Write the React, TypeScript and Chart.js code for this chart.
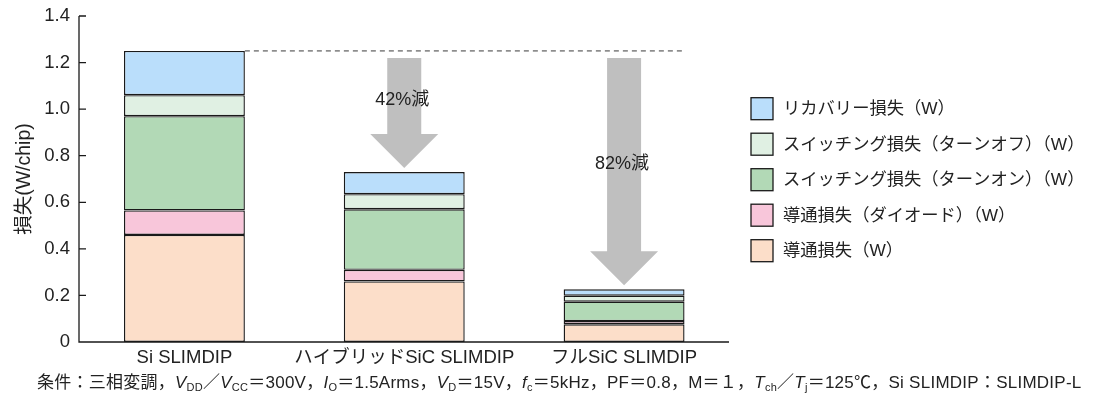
import React, { useEffect, useRef } from "react";
import { Chart, registerables } from "chart.js";

Chart.register(...registerables);

const FONT = "'Liberation Sans', 'Noto Sans CJK JP', sans-serif";
const TEXT_COLOR = "#222222";

// Module variants on the category axis
const categories = ["Si SLIMDIP", "ハイブリッドSiC SLIMDIP", "フルSiC SLIMDIP"];

// Loss components per module (W/chip), stacked bottom to top
const conductionLoss = [0.46, 0.26, 0.076];
const diodeConductionLoss = [0.105, 0.05, 0.014];
const turnOnLoss = [0.405, 0.26, 0.083];
const turnOffLoss = [0.09, 0.065, 0.026];
const recoveryLoss = [0.19, 0.095, 0.027];

const seriesLabels = [
  "導通損失（W）",
  "導通損失（ダイオード）（W）",
  "スイッチング損失（ターンオン）（W）",
  "スイッチング損失（ターンオフ）（W）",
  "リカバリー損失（W）",
];
const seriesColors = ["#fcdec9", "#f8c6da", "#b2d9b6", "#e0f0e3", "#badefb"];

const yTicks = [0, 0.2, 0.4, 0.6, 0.8, 1.0, 1.2, 1.4];

const totals = categories.map(
  (_, i) =>
    conductionLoss[i] + diodeConductionLoss[i] + turnOnLoss[i] + turnOffLoss[i] + recoveryLoss[i]
);

// Axis lines with inward tick marks
const axesPlugin = {
  id: "axesLines",
  afterDraw(chart: any) {
    const { ctx, chartArea, scales } = chart;
    const y = scales.y;
    const x0 = chartArea.left + 4.5;
    const x1 = chartArea.right - 5;
    const yb = y.getPixelForValue(0);
    const yt = y.getPixelForValue(1.4);
    ctx.save();
    ctx.strokeStyle = "#1a1a1a";
    ctx.lineWidth = 1.3;
    ctx.beginPath();
    ctx.moveTo(x0, yt);
    ctx.lineTo(x0, yb);
    ctx.lineTo(x1, yb);
    yTicks.forEach((v) => {
      const py = y.getPixelForValue(v);
      ctx.moveTo(x0, py);
      ctx.lineTo(x0 + 7, py);
    });
    ctx.stroke();
    ctx.restore();
  },
};

// Reference dashed line and reduction arrows
const reductionPlugin = {
  id: "reduction",
  afterDatasetsDraw(chart: any) {
    const { ctx, scales } = chart;
    const xs = scales.x;
    const ys = scales.y;
    const meta = chart.getDatasetMeta(seriesLabels.length - 1);
    const refBar = meta.data[0];
    const lastBar = meta.data[categories.length - 1];
    const refY = ys.getPixelForValue(totals[0]);

    ctx.save();
    ctx.strokeStyle = "#3a3a3a";
    ctx.lineWidth = 1;
    ctx.setLineDash([5, 4]);
    ctx.beginPath();
    ctx.moveTo(refBar.x + refBar.width / 2, refY);
    ctx.lineTo(lastBar.x + lastBar.width / 2, refY);
    ctx.stroke();
    ctx.setLineDash([]);

    for (let i = 1; i < categories.length; i++) {
      const cx = xs.getPixelForValue(i);
      const top = refY + 7;
      const tip = ys.getPixelForValue(totals[i]) - 4;
      const headH = 34;
      const shaftHalf = 17;
      const headHalf = 34;
      const headTop = tip - headH;
      ctx.fillStyle = "#bfbfbf";
      ctx.beginPath();
      ctx.moveTo(cx - shaftHalf, top);
      ctx.lineTo(cx + shaftHalf, top);
      ctx.lineTo(cx + shaftHalf, headTop);
      ctx.lineTo(cx + headHalf, headTop);
      ctx.lineTo(cx, tip);
      ctx.lineTo(cx - headHalf, headTop);
      ctx.lineTo(cx - shaftHalf, headTop);
      ctx.closePath();
      ctx.fill();

      const pct = Math.round((1 - totals[i] / totals[0]) * 100);
      ctx.fillStyle = TEXT_COLOR;
      ctx.font = `18px ${FONT}`;
      ctx.textAlign = "center";
      ctx.textBaseline = "middle";
      ctx.fillText(`${pct}%減`, cx - 2, top + (headTop - top) * 0.55);
    }
    ctx.restore();
  },
};

// Legend list on the right, top series first
const legendPlugin = {
  id: "sideLegend",
  afterDraw(chart: any) {
    const { ctx, chartArea } = chart;
    const boxX = chartArea.right + 17;
    const firstY = 108.7;
    const step = 35.5;
    const size = 22;
    ctx.save();
    ctx.font = `17.3px ${FONT}`;
    ctx.textBaseline = "middle";
    ctx.textAlign = "left";
    const ds = chart.data.datasets;
    for (let k = 0; k < ds.length; k++) {
      const d = ds[ds.length - 1 - k];
      const cy = firstY + k * step;
      ctx.fillStyle = d.backgroundColor;
      ctx.fillRect(boxX, cy - size / 2, size, size);
      ctx.strokeStyle = "#1a1a1a";
      ctx.lineWidth = 1.3;
      ctx.strokeRect(boxX, cy - size / 2, size, size);
      ctx.fillStyle = TEXT_COLOR;
      ctx.fillText(d.label, boxX + 32, cy + 1);
    }
    ctx.restore();
  },
};

const seriesValues = [conductionLoss, diodeConductionLoss, turnOnLoss, turnOffLoss, recoveryLoss];

export default function App() {
  const canvasRef = useRef<HTMLCanvasElement>(null);

  useEffect(() => {
    Chart.defaults.font.family = FONT;
    Chart.defaults.color = TEXT_COLOR;
    const chart = new Chart(canvasRef.current as HTMLCanvasElement, {
      type: "bar",
      data: {
        labels: categories,
        datasets: seriesValues.map((values, i) => ({
          label: seriesLabels[i],
          data: values,
          backgroundColor: seriesColors[i],
          borderColor: "#1a1a1a",
          borderWidth: 1.4,
          borderSkipped: false,
          barPercentage: 0.55,
          categoryPercentage: 1,
        })),
      },
      options: {
        animation: false,
        responsive: false,
        layout: { padding: { left: 0, right: 361, top: 16, bottom: 0 } },
        plugins: {
          legend: { display: false },
          tooltip: { enabled: false },
        },
        scales: {
          x: {
            stacked: true,
            grid: { display: false, drawTicks: false },
            border: { display: false },
            ticks: {
              font: { size: 18.5 },
              color: TEXT_COLOR,
              padding: 5,
              autoSkip: false,
              maxRotation: 0,
              minRotation: 0,
            },
            afterFit: (scale: any) => {
              scale.height = 68;
            },
          },
          y: {
            stacked: true,
            min: 0,
            max: 1.4,
            grid: { display: false, drawTicks: false },
            border: { display: false },
            afterBuildTicks: (scale: any) => {
              scale.ticks = yTicks.map((v) => ({ value: v }));
            },
            ticks: {
              font: { size: 18.5 },
              color: TEXT_COLOR,
              padding: 4.5,
              callback: (v: any) => (Number(v) === 0 ? "0" : Number(v).toFixed(1)),
            },
            title: {
              display: true,
              text: "損失(W/chip)",
              font: { size: 19.5 },
              color: TEXT_COLOR,
              padding: { top: 13, bottom: 0 },
            },
            afterFit: (scale: any) => {
              scale.width = 74.5;
            },
          },
        },
      },
      plugins: [axesPlugin, reductionPlugin, legendPlugin],
    });
    return () => chart.destroy();
  }, []);

  const sub = { fontSize: "11px", position: "relative" as const, top: "3px", fontStyle: "normal" };
  const it = { fontStyle: "italic" };

  return (
    <div
      style={{
        position: "absolute",
        left: 0,
        top: 0,
        width: 1095,
        height: 410,
        background: "#ffffff",
        fontFamily: FONT,
        color: TEXT_COLOR,
      }}
    >
      <canvas ref={canvasRef} width={1095} height={410} style={{ display: "block" }} />
      <div
        style={{
          position: "absolute",
          left: 37,
          top: 373,
          fontSize: "17px",
          lineHeight: "20px",
          letterSpacing: "0.25px",
          whiteSpace: "nowrap",
        }}
      >
        条件：三相変調，<span style={it}>V</span>
        <span style={sub}>DD</span>／<span style={it}>V</span>
        <span style={sub}>CC</span>＝300V，<span style={it}>I</span>
        <span style={sub}>O</span>＝1.5Arms，<span style={it}>V</span>
        <span style={sub}>D</span>＝15V，<span style={it}>f</span>
        <span style={sub}>c</span>＝5kHz，PF＝0.8，M＝１，<span style={it}>T</span>
        <span style={sub}>ch</span>／<span style={it}>T</span>
        <span style={sub}>j</span>＝125℃，Si SLIMDIP：SLIMDIP-L
      </div>
    </div>
  );
}
